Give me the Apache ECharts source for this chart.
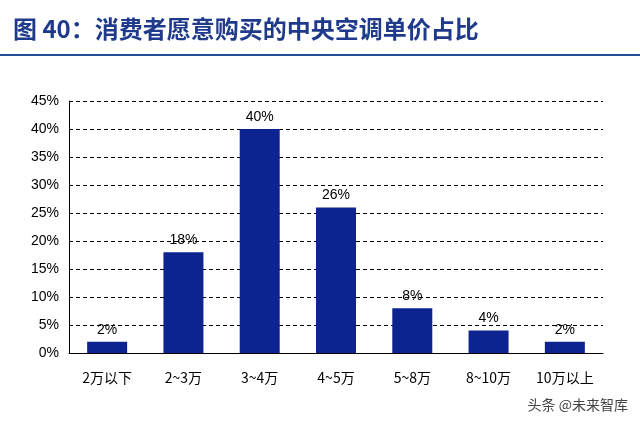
<!DOCTYPE html>
<html><head><meta charset="utf-8">
<script src="https://cdn.jsdelivr.net/npm/echarts@6/dist/echarts.min.js"></script>
<style>html,body{margin:0;padding:0;background:#fff}#c{width:640px;height:423px}</style>
</head><body><div id="c"></div>
<script>
var categories = ['2万以下', '2~3万', '3~4万', '4~5万', '5~8万', '8~10万', '10万以上'];
var shares = [2, 18, 40, 26, 8, 4, 2];

var chart = echarts.init(document.getElementById('c'));
chart.setOption({
    animation: false,
    title: {
        text: '图 40：消费者愿意购买的中央空调单价占比',
        left: 8, top: 12,
        textStyle: {color: '#1f3a8a', fontSize: 24, fontWeight: 'bold', fontFamily: 'Noto Sans CJK SC'}
    },
    graphic: [
        {type: 'line', shape: {x1: 0, y1: 55, x2: 640, y2: 55}, style: {stroke: '#1f4e9a', lineWidth: 2}},
        {type: 'text', right: 12, top: 398, style: {text: '头条 @未来智库', fill: '#444', font: '14px "Noto Sans CJK SC"'}}
    ],
    grid: {left: 69, right: 37, top: 101, bottom: 70},
    xAxis: {
        type: 'category', data: categories,
        axisLine: {lineStyle: {color: '#000'}},
        axisTick: {show: false},
        axisLabel: {color: '#000', fontSize: 14, margin: 18, fontFamily: 'Noto Sans CJK SC'}
    },
    yAxis: {
        type: 'value', min: 0, max: 45, interval: 5,
        axisLine: {show: true, lineStyle: {color: '#000'}},
        axisTick: {show: true, inside: true, length: 4, lineStyle: {color: '#000'}},
        axisLabel: {formatter: '{value}%', color: '#000', fontSize: 14, margin: 10},
        splitLine: {lineStyle: {color: '#000', type: [4, 3]}}
    },
    series: [{
        type: 'bar', data: shares, barWidth: 40,
        itemStyle: {color: '#0d2490'},
        label: {show: true, position: 'top', formatter: '{c}%', color: '#000', fontSize: 14}
    }]
});
</script></body></html>
